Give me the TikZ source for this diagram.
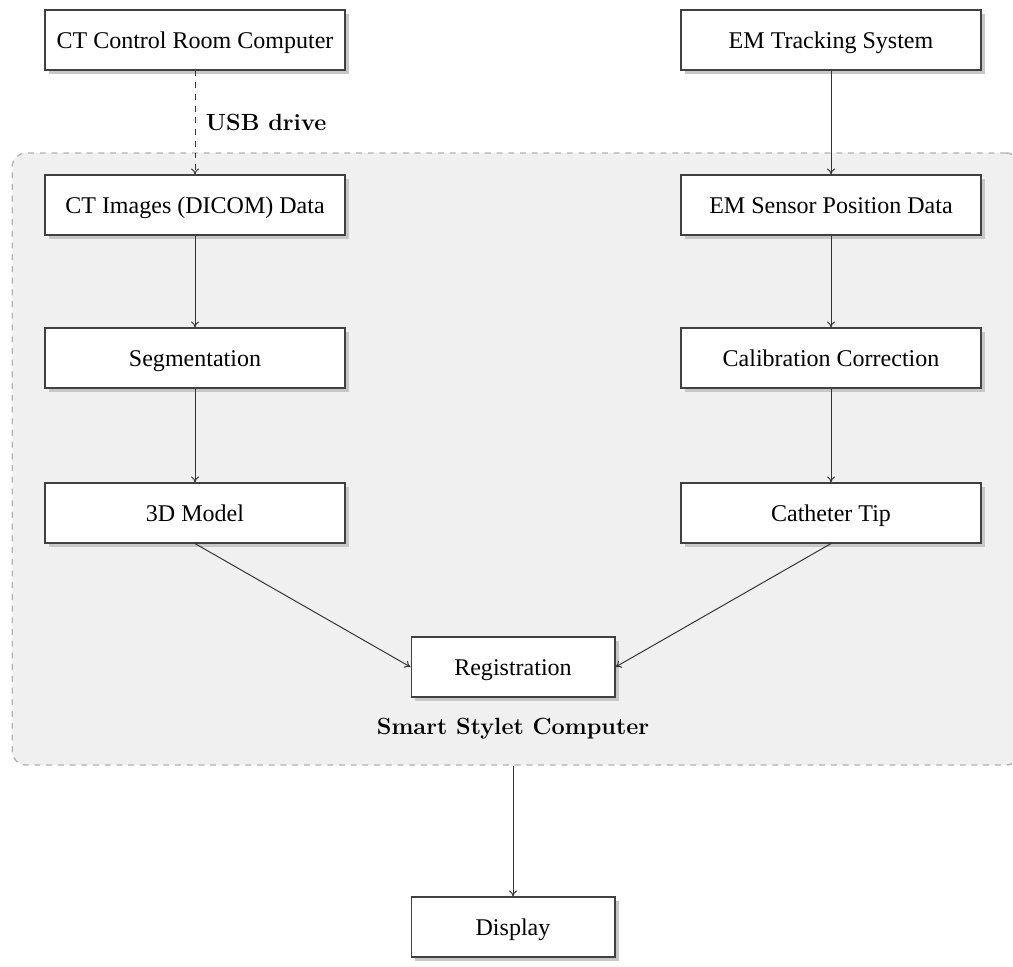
\documentclass[tikz,border=0pt]{standalone}
\usepackage{fontspec}
\newfontfamily\boxfont{Liberation Serif}
\usepackage{tikz}
\usetikzlibrary{positioning,arrows.meta,shadows,calc}

\begin{document}
\begin{tikzpicture}[x=0.018cm, y=-0.018cm,
    block/.style={draw=black!75, line width=0.6pt, fill=white,
      minimum width=5.4cm, minimum height=1.08cm, inner sep=0pt,
      text height=10pt, text depth=1pt,
      font=\boxfont\fontsize{12.3}{14}\selectfont,
      drop shadow={shadow xshift=0.07cm, shadow yshift=-0.07cm, fill=black!22, opacity=1}},
    smallblock/.style={block, minimum width=3.67cm},
    arrow/.style={draw=black!80, line width=0.5pt, -{To[length=3pt,width=4pt]}},
    tag/.style={font=\fontsize{12}{14}\selectfont\bfseries}]
  \useasboundingbox (0,0) rectangle (1013,967);
  % computer area
  \node[draw=black!30, dashed, line width=0.7pt, fill=black!6, rounded corners=7pt,
        minimum width=18.14cm, minimum height=11.02cm] (smart) at (516,459) {};
  \node[tag] (smartlabel) at (513,729) {Smart Stylet Computer};
  % left column -- CT side
  \node[block] (ctroom) at (195,40) {CT Control Room Computer};
  \node[block] (ctimg) at (195,205) {CT Images (DICOM) Data};
  \node[block] (segment) at (195,358) {Segmentation};
  \node[block] (model) at (195,513) {3D Model};
  % right column -- EM side
  \node[block] (emtrack) at (831,40) {EM Tracking System};
  \node[block] (emsensor) at (831,205) {EM Sensor Position Data};
  \node[block] (calib) at (831,358) {Calibration Correction};
  \node[block] (tip) at (831,513) {Catheter Tip};
  % merge and output
  \node[smallblock] (regist) at (513,667) {Registration};
  \node[smallblock] (display) at (513,927) {Display};
  \draw[arrow, dashed] (ctroom) -- node[tag, right=2pt] {USB drive} (ctimg);
  \draw[arrow] (ctimg) -- (segment);
  \draw[arrow] (segment) -- (model);
  \draw[arrow] (emtrack) -- (emsensor);
  \draw[arrow] (emsensor) -- (calib);
  \draw[arrow] (calib) -- (tip);
  \draw[arrow] (model.south) -- (regist.west);
  \draw[arrow] (tip.south) -- (regist.east);
  \draw[arrow] (regist |- smart.south) -- (display);
\end{tikzpicture}
\end{document}
